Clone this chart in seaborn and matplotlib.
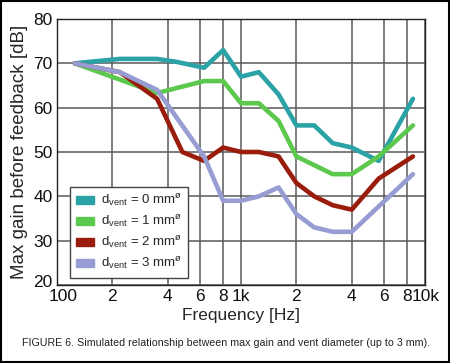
import pandas as pd
import matplotlib.pyplot as plt
import matplotlib.patches as mpatches
from matplotlib.transforms import ScaledTranslation
import seaborn as sns

# frequencies (Hz) of the curve vertices
freq_0 = [125, 220, 350, 450, 630, 800, 1000, 1250, 1600, 2000, 2500, 3150, 4000, 5600, 8600]
gain_0 = [70, 71, 71, 70.3, 69, 73, 67, 68, 63, 56, 56, 52, 51, 48, 62]

freq_1 = [125, 350, 630, 800, 1000, 1250, 1600, 2000, 3150, 4000, 5600, 8600]
gain_1 = [70, 63.3, 66, 66, 61, 61, 57, 49, 45, 45, 49, 56]

freq_2 = [125, 220, 350, 480, 630, 800, 1000, 1250, 1600, 2000, 2500, 3150, 4000, 5600, 8600]
gain_2 = [70, 68, 62, 50, 48, 51, 50, 50, 49, 43, 40, 38, 37, 44, 49]

freq_3 = [125, 220, 350, 630, 800, 1000, 1250, 1600, 2000, 2500, 3150, 4000, 8600]
gain_3 = [70, 68, 64, 49, 39, 39, 40, 42, 36, 33, 32, 32, 45]

labels = [r'd$_\mathregular{vent}$ = 0 mm$^\mathregular{ø}$',
          r'd$_\mathregular{vent}$ = 1 mm$^\mathregular{ø}$',
          r'd$_\mathregular{vent}$ = 2 mm$^\mathregular{ø}$',
          r'd$_\mathregular{vent}$ = 3 mm$^\mathregular{ø}$']
colors = ['#2ba3a6', '#5cc94e', '#9a1c0c', '#979dd3']

x_ticks = [100, 200, 400, 600, 800, 1000, 2000, 4000, 6000, 8000, 10000]
x_ticklabels = ['100', '2', '4', '6', '8', '1k', '2', '4', '6', '8', '10k']

frames = []
for f, g, lab in zip([freq_0, freq_1, freq_2, freq_3],
                     [gain_0, gain_1, gain_2, gain_3], labels):
    frames.append(pd.DataFrame({'freq': f, 'gain': g, 'vent': lab}))
df = pd.concat(frames, ignore_index=True)

sns.set_style('white')
plt.rcParams['font.family'] = ['Liberation Sans', 'DejaVu Sans']
plt.rcParams['mathtext.fontset'] = 'custom'
plt.rcParams['mathtext.rm'] = 'Liberation Sans'

fig = plt.figure(figsize=(4.5, 3.63), dpi=100)
ax = fig.add_axes([57 / 450, 1 - 285 / 363, 368 / 450, 266 / 363])

sns.lineplot(data=df, x='freq', y='gain', hue='vent', palette=colors,
             linewidth=3.3, sort=False, estimator=None, legend=False, ax=ax,
             zorder=3)

ax.set_xscale('log')
ax.set_xlim(100, 10000)
ax.set_ylim(20, 80)
ax.set_xticks(x_ticks)
ax.set_xticklabels(x_ticklabels)
ax.minorticks_off()
ax.set_yticks(range(20, 81, 10))
ax.grid(True, color='#5a5a5a', linewidth=1.1)
for s in ax.spines.values():
    s.set_color('#222222')
    s.set_linewidth(1.0)
ax.tick_params(axis='both', labelsize=12.5, length=0, pad=3, colors='#111111')

# nudge corner labels the way the original does
xt = ax.get_xticklabels()
xt[-1].set_horizontalalignment('left')
xt[-1].set_transform(xt[-1].get_transform() + ScaledTranslation(-0.13, 0, fig.dpi_scale_trans))
xt[0].set_transform(xt[0].get_transform() + ScaledTranslation(0.06, 0, fig.dpi_scale_trans))
yt = ax.get_yticklabels()
yt[0].set_transform(yt[0].get_transform() + ScaledTranslation(0, 0.04, fig.dpi_scale_trans))

ax.set_xlabel('Frequency [Hz]', fontsize=12.5, labelpad=3)
ax.set_ylabel('Max gain before feedback [dB]', fontsize=13.5, labelpad=4)

handles = [mpatches.Patch(facecolor=c, edgecolor=c) for c in colors]
leg = ax.legend(handles, labels, loc='lower left', bbox_to_anchor=(0.035, 0.026),
                fontsize=9.5, frameon=True, fancybox=False, framealpha=1,
                edgecolor='#444444', handlelength=1.4, handleheight=0.6,
                handletextpad=0.5, labelspacing=0.38, borderpad=0.45,
                borderaxespad=0)
leg.get_frame().set_linewidth(1.0)
leg.set_zorder(5)

fig.text(22 / 450, 1 - 343 / 363, 'FIGURE 6. Simulated relationship between max gain and vent diameter (up to 3 mm).',
         fontsize=7.7, va='center', ha='left', color='#222222')

border = mpatches.Rectangle((0.002, 0.003), 0.995, 0.994, transform=fig.transFigure,
                            fill=False, edgecolor='black', linewidth=1.5)
fig.patches.append(border)

fig.savefig('out.png', dpi=100)
